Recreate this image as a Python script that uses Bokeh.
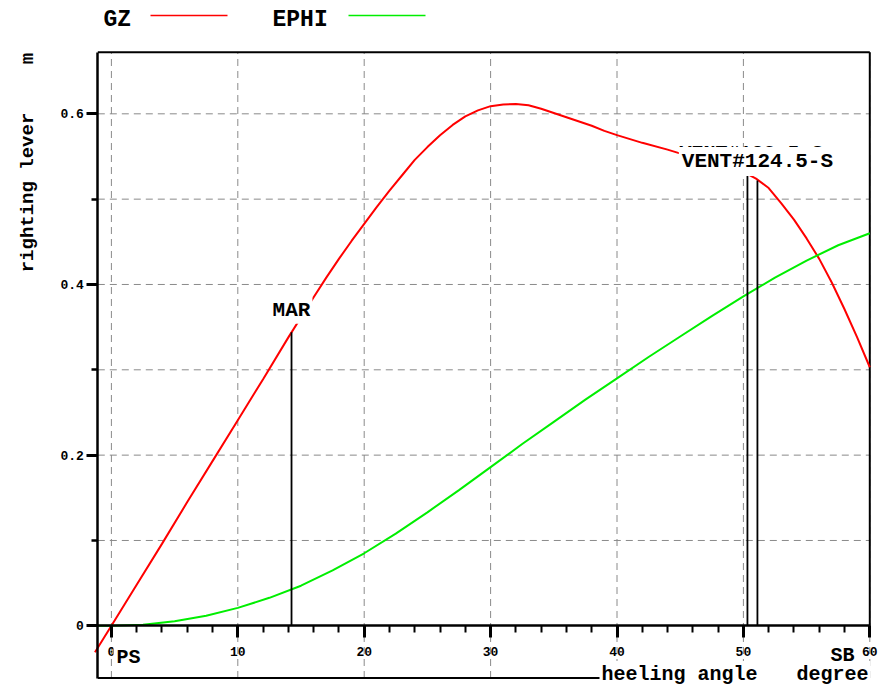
from math import pi

from bokeh.plotting import figure
from bokeh.models import (LinearAxis, SingleIntervalTicker, Range1d, Label,
                          ColumnDataSource)
from bokeh.embed import file_html
from bokeh.resources import INLINE

# ---- righting lever curve GZ [m] over heeling angle [deg]
gz_angle = [-1.3, 0, 2, 4, 6, 8, 10, 12, 14, 16, 17, 18, 19, 20, 21, 22, 23,
            24, 25, 26, 27, 28, 29, 30, 31, 32, 33, 34, 35, 36, 37, 38, 39, 40,
            42, 44, 46, 48, 50, 51, 52, 53, 54, 55, 56, 57, 58, 59, 60]
gz_value = [-0.031, 0.000, 0.048, 0.096, 0.145, 0.193, 0.241, 0.289, 0.338,
            0.385, 0.408, 0.430, 0.451, 0.471, 0.491, 0.510, 0.528, 0.546,
            0.561, 0.575, 0.587, 0.597, 0.604, 0.609, 0.611, 0.6115, 0.610,
            0.606, 0.601, 0.596, 0.591, 0.586, 0.580, 0.575, 0.566, 0.558,
            0.549, 0.541, 0.532, 0.524, 0.513, 0.495, 0.476, 0.454, 0.430,
            0.402, 0.371, 0.338, 0.303]

# ---- dynamic lever EPHI [m rad]
ephi_angle = [-1.1, 0, 2.5, 5, 7.5, 10, 12.5, 15, 17.5, 20, 22.5, 25, 27.5,
              30, 32.5, 35, 37.5, 40, 42.5, 45, 47.5, 50, 52.5, 55, 57.5, 60]
ephi_value = [0.000, 0.000, 0.0013, 0.0053, 0.0118, 0.0210, 0.0328, 0.0470,
              0.0650, 0.0850, 0.1080, 0.1330, 0.1590, 0.1860, 0.2130, 0.2390,
              0.2650, 0.2900, 0.3150, 0.3390, 0.3630, 0.3860, 0.4080, 0.4280,
              0.4460, 0.4600]

# ---- openings / flooding points
open_angle = [14.25, 50.32, 51.11]
open_gz = [0.344, 0.529, 0.522]
open_names = ["MAR", "VENT#123.5-S", "VENT#124.5-S"]

# ---- grid and tick positions
x_grid = [0, 10, 20, 30, 40, 50, 60]
y_grid = [0.1, 0.2, 0.3, 0.4, 0.5, 0.6]
x_tick_labels = ["0", "10", "20", "30", "40", "50", "60"]
y_tick_labels = ["0", "0.2", "0.4", "0.6"]

# ---- pixel layout helpers (canvas 882 x 688)
X0, PX_DEG = 110.9, 12.64
Y0, PX_M = 625.3, 853.3


def ax(px):
    return (px - X0) / PX_DEG


def ay(py):
    return (Y0 - py) / PX_M


FONT = "Liberation Mono"
RED = "#ff0000"
GREEN = "#00ee00"
GRID = "#8a8a8a"

# box edges (data units)
BOX_L, BOX_R = ax(97.3), 60
BOX_T, BOX_B = ay(51.7), ay(677.5)

p = figure(width=882, height=688, output_backend="svg", toolbar_location=None,
           x_range=Range1d(ax(0), ax(882)), y_range=Range1d(ay(688), ay(0)),
           x_axis_location=None, y_axis_location=None,
           min_border=0, outline_line_color=None,
           background_fill_color="white", border_fill_color="white")
p.xgrid.visible = False
p.ygrid.visible = False

# dashed grid inside the box
p.segment(x0=x_grid, y0=[BOX_B] * len(x_grid), x1=x_grid,
          y1=[BOX_T] * len(x_grid), line_color=GRID, line_dash="7 5",
          line_width=1)
p.segment(x0=[BOX_L] * len(y_grid), y0=y_grid, x1=[BOX_R] * len(y_grid),
          y1=y_grid, line_color=GRID, line_dash="7 5", line_width=1)

# y axis = left edge of the box
yaxis = LinearAxis(ticker=SingleIntervalTicker(interval=0.2, num_minor_ticks=2),
                   fixed_location=BOX_L, bounds=(BOX_B, BOX_T))
yaxis.axis_line_width = 2.5
yaxis.axis_line_color = "black"
yaxis.major_tick_out = 11
yaxis.major_tick_in = 0
yaxis.major_tick_line_width = 3
yaxis.minor_tick_out = 6
yaxis.minor_tick_in = 0
yaxis.minor_tick_line_width = 2.5
yaxis.major_label_text_font = FONT
yaxis.major_label_text_font_style = "bold"
yaxis.major_label_text_font_size = "13px"
yaxis.major_label_text_color = "black"
yaxis.major_label_standoff = 3
yaxis.major_label_overrides = {i * 0.2: t for i, t in enumerate(y_tick_labels)}
p.add_layout(yaxis, "left")

# x axis drawn on the zero line
xaxis = LinearAxis(ticker=SingleIntervalTicker(interval=10, num_minor_ticks=5),
                   fixed_location=0, bounds=(BOX_L, BOX_R))
xaxis.axis_line_width = 2.5
xaxis.axis_line_color = "black"
xaxis.major_tick_out = 12
xaxis.major_tick_in = 0
xaxis.major_tick_line_width = 3
xaxis.minor_tick_out = 7
xaxis.minor_tick_in = 0
xaxis.minor_tick_line_width = 2
xaxis.major_label_text_font = FONT
xaxis.major_label_text_font_style = "bold"
xaxis.major_label_text_font_size = "13px"
xaxis.major_label_text_color = "black"
xaxis.major_label_standoff = 9
xaxis.major_label_overrides = {i * 10: t for i, t in enumerate(x_tick_labels)}
p.add_layout(xaxis, "below")

# box borders: top, right (above zero line), bottom-left part
p.segment(x0=[BOX_L, BOX_R, BOX_L], y0=[BOX_T, 0, BOX_B],
          x1=[BOX_R, BOX_R, ax(600)], y1=[BOX_T, BOX_T, BOX_B],
          line_color="black", line_width=2)

# curves
p.line(gz_angle, gz_value, line_color=RED, line_width=2)
p.line(ephi_angle, ephi_value, line_color=GREEN, line_width=2)

# opening markers
src = ColumnDataSource(dict(x=open_angle, top=open_gz,
                            base=[0] * len(open_angle)))
p.segment(x0="x", y0="base", x1="x", y1="top", source=src,
          line_color="black", line_width=1.8)


def label(x, y, text, size, align="left", angle=0.0, bg=None, pad=2,
          x_offset=0):
    lab = Label(x=x, y=y, text=text, text_font=FONT, text_font_style="bold",
                text_font_size=size, text_color="black", text_align=align,
                text_baseline="alphabetic", angle=angle, x_offset=x_offset)
    if bg:
        lab.background_fill_color = bg
        lab.padding = pad
    p.add_layout(lab)


label(open_angle[0], open_gz[0] + 22 / PX_M, open_names[0], "21px",
      align="center", bg="white")
label(open_angle[1], open_gz[1] + 21 / PX_M, open_names[1], "20px",
      align="center", x_offset=4)
label(open_angle[2], open_gz[2] + 19 / PX_M, open_names[2], "21px",
      align="center", bg="white", pad=3)

# side labels
label(ax(113), ay(657), "PS", "20px", bg="white", pad=3)
label(ax(599), ay(674), "heeling angle", "20px", bg="white")
label(ax(794), ay(674), "degree", "20px", bg="white")
label(ax(854), ay(655), "SB", "20px", align="right")
label(ax(27), ay(192), "righting lever", "19px", align="center", angle=pi / 2)
label(ax(27), ay(58), "m", "19px", align="center", angle=pi / 2)

# legend
label(ax(103), ay(19), "GZ", "23px")
label(ax(272), ay(19), "EPHI", "23px")
p.segment(x0=[ax(150)], y0=[ay(15)], x1=[ax(227)], y1=[ay(15)],
          line_color=RED, line_width=1.5)
p.segment(x0=[ax(348)], y0=[ay(15)], x1=[ax(425)], y1=[ay(15)],
          line_color=GREEN, line_width=1.5)

open("out.html", "w").write(file_html(p, INLINE))
